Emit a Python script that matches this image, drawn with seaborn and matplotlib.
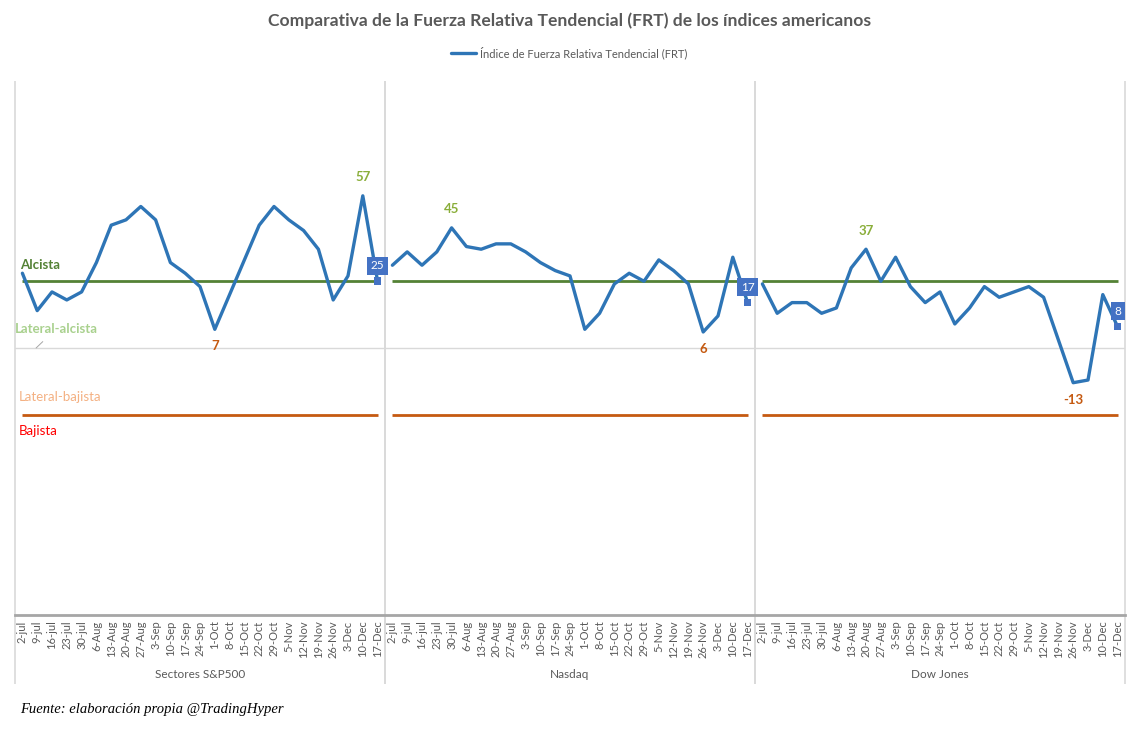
import numpy as np
import pandas as pd
import matplotlib.pyplot as plt
import matplotlib.transforms as mtransforms
from matplotlib.lines import Line2D
import seaborn as sns

# -----------------------
# Data
# -----------------------
fechas = ['2-jul', '9-jul', '16-jul', '23-jul', '30-jul', '6-Aug', '13-Aug', '20-Aug',
          '27-Aug', '3-Sep', '10-Sep', '17-Sep', '24-Sep', '1-Oct', '8-Oct', '15-Oct',
          '22-Oct', '29-Oct', '5-Nov', '12-Nov', '19-Nov', '26-Nov', '3-Dec', '10-Dec',
          '17-Dec']
indices = ['Sectores S&P500', 'Nasdaq', 'Dow Jones']

sp500 = [28, 14, 21, 18, 21, 32, 46, 48, 53, 48, 32, 28, 23, 7, 20, 33,
         46, 53, 48, 44, 37, 18, 27, 57, 25]
nasdaq = [31, 36, 31, 36, 45, 38, 37, 39, 39, 36, 32, 29, 27, 7, 13, 24,
          28, 25, 33, 29, 24, 6, 12, 34, 17]
dow = [24, 13, 17, 17, 13, 15, 30, 37, 25, 34, 23, 17, 21, 9, 15, 23,
       19, 21, 23, 19, 3, -13, -12, 20, 8]

nivel_alcista = 25
nivel_bajista = -25

# -----------------------
# Build dataframe
# -----------------------
df = pd.DataFrame({
    'indice': np.repeat(indices, len(fechas)),
    'fecha': fechas * len(indices),
    'FRT': sp500 + nasdaq + dow,
})
df['pos'] = np.arange(len(df))

azul = '#2E75B6'
verde = '#548235'
naranja = '#C55A11'
gris = '#595959'

# -----------------------
# Plot
# -----------------------
sns.set_style('white')
plt.rcParams['font.family'] = ['Lato', 'DejaVu Sans']

fig = plt.figure(figsize=(11.39, 7.30), dpi=100)
ax = fig.add_axes([15 / 1139, 1 - 615 / 730, 1110 / 1139, 534 / 730])

sns.lineplot(data=df, x='pos', y='FRT', units='indice', estimator=None, sort=False,
             color=azul, lw=2.4, ax=ax)

ax.axhline(0, color='#D9D9D9', lw=1, zorder=0)

trans_x = ax.get_xaxis_transform()
for ind, g in df.groupby('indice', sort=False):
    x0, x1 = g['pos'].min(), g['pos'].max()
    ax.hlines(nivel_alcista, x0, x1, color=verde, lw=2, zorder=1)
    ax.hlines(nivel_bajista, x0, x1, color=naranja, lw=2, zorder=1)
    # panel separators
    ax.vlines([x0 - 0.5, x1 + 0.5], -0.129, 1, transform=trans_x, color='#D9D9D9',
              lw=1.2, clip_on=False, zorder=0)
    # group label
    ax.text((x0 + x1) / 2, -0.112, ind, transform=trans_x, ha='center', va='center',
            fontsize=8.5, color=gris)
    # max / min labels
    imax = g['FRT'].idxmax()
    imin = g['FRT'].idxmin()
    ax.annotate(f"{g.loc[imax, 'FRT']}", (g.loc[imax, 'pos'], g.loc[imax, 'FRT']),
                xytext=(0, 9), textcoords='offset points', ha='center', va='bottom',
                fontsize=9.5, fontweight='bold', color='#8AAE3A')
    ax.annotate(f"{g.loc[imin, 'FRT']}", (g.loc[imin, 'pos'], g.loc[imin, 'FRT']),
                xytext=(0, -8), textcoords='offset points', ha='center', va='top',
                fontsize=9.5, fontweight='bold', color=naranja)
    # last value box
    last = g.iloc[-1]
    ax.annotate(f"{last['FRT']}", (last['pos'], last['FRT']),
                xytext=(0, 11), textcoords='offset points', ha='center', va='center',
                fontsize=8.5, color='white',
                bbox=dict(boxstyle='square,pad=0.3', fc='#4472C4', ec='none'))

ultimos = df.groupby('indice', sort=False).tail(1)
sns.scatterplot(data=ultimos, x='pos', y='FRT', marker='s', s=30, color='#4472C4',
                edgecolor='none', ax=ax, zorder=5)

# zone labels
trans_y = mtransforms.blended_transform_factory(ax.transAxes, ax.transData)
ax.text(0.005, 31, 'Alcista', transform=trans_y, fontsize=9.5, color=verde,
        fontweight='bold', va='center')
ax.annotate('Lateral-alcista', xy=(0.019, 0), xycoords=trans_y,
            xytext=(0.0, 7.3), textcoords=trans_y, fontsize=9.5, color='#A9D18E',
            fontweight='bold', va='center',
            arrowprops=dict(arrowstyle='-', color='#A6A6A6', lw=0.7, shrinkA=4, shrinkB=0))
ax.text(0.003, -18.5, 'Lateral-bajista', transform=trans_y, fontsize=9.5,
        color='#F4B183', va='center')
ax.text(0.003, -31, 'Bajista', transform=trans_y, fontsize=9.5, color='#FF0000',
        va='center')

ax.set_xlim(-0.5, len(df) - 0.5)
ax.set_ylim(-100, 100)
ax.set_yticks([])
ax.set_xticks(df['pos'])
ax.set_xticklabels(df['fecha'], rotation=90, fontsize=8, color=gris)
ax.tick_params(axis='x', length=0, pad=4)
ax.set_xlabel('')
ax.set_ylabel('')
for s in ['top', 'left', 'right']:
    ax.spines[s].set_visible(False)
ax.spines['bottom'].set_color('#A6A6A6')
ax.spines['bottom'].set_linewidth(2)

fig.text(0.5, 1 - 21 / 730, 'Comparativa de la Fuerza Relativa Tendencial (FRT) de los índices americanos',
         ha='center', va='center', fontsize=12.6, fontweight='bold', color=gris)
fig.legend(handles=[Line2D([0], [0], color=azul, lw=2.4)],
           labels=['Índice de Fuerza Relativa Tendencial (FRT)'],
           loc='center', bbox_to_anchor=(0.5, 1 - 53 / 730), frameon=False,
           fontsize=8, handlelength=2.2, handletextpad=0.4, labelcolor=gris)
fig.text(20 / 1139, 1 - 709 / 730, 'Fuente: elaboración propia @TradingHyper',
         ha='left', va='center', fontsize=10.5, style='italic',
         family='Liberation Serif', color='black')

plt.savefig('out.png', dpi=100)
